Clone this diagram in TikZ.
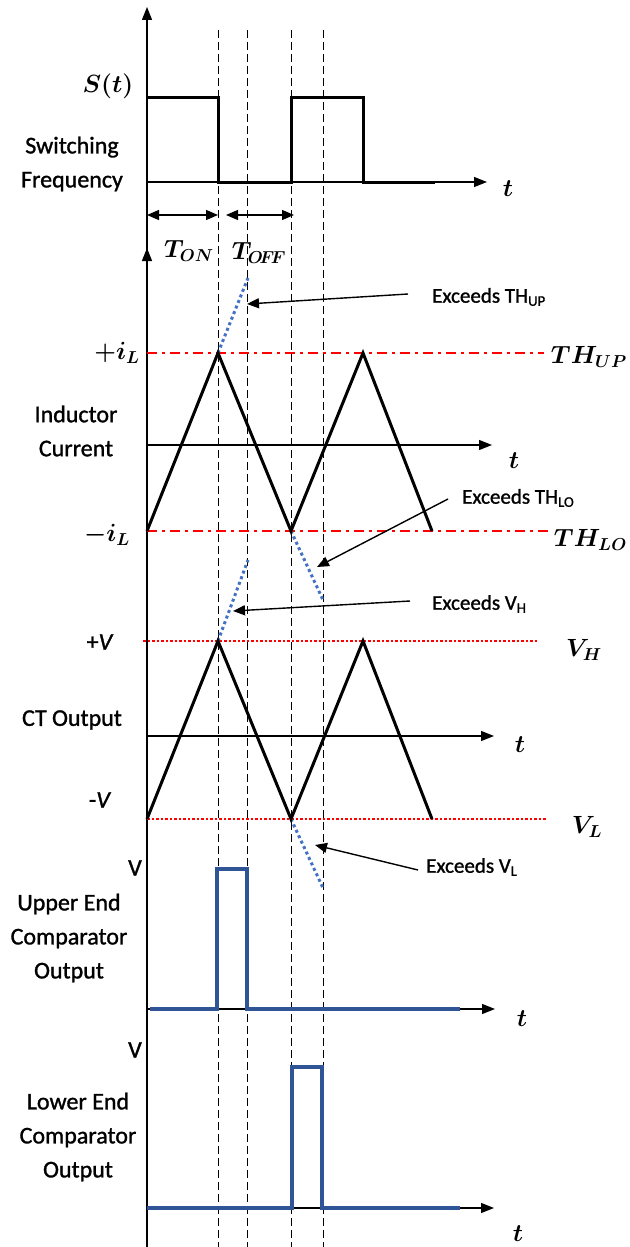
\documentclass[tikz,border=0pt]{standalone}
\usepackage{amsmath,bm}
\usepackage[no-math]{fontspec}
\setmainfont{Carlito}[FakeBold=1.2]
\usetikzlibrary{arrows.meta}
\definecolor{dotblue}{HTML}{4472C4}
\definecolor{cmpblue}{HTML}{2F5597}
\begin{document}
\begin{tikzpicture}[x=1pt,y=-1pt,
  axis/.style={line width=1.3pt,-{Triangle[length=13pt,width=10pt]}},
  dbl/.style={line width=1.3pt,{Triangle[length=12pt,width=10pt]}-{Triangle[length=12pt,width=10pt]}},
  wave/.style={line width=3pt,line join=miter},
  guide/.style={line width=0.9pt,dash pattern=on 8pt off 4pt},
  thline/.style={red,line width=2.2pt,dash pattern=on 10pt off 5pt on 3pt off 5pt},
  vlev/.style={red,line width=2.5pt,dash pattern=on 2.5pt off 2pt},
  over/.style={dotblue,line width=3pt,dash pattern=on 3pt off 3pt},
  pulse/.style={cmpblue,line width=4.5pt,line join=miter},
  note/.style={line width=1.4pt,-{Triangle[length=12pt,width=10pt]}},
  lbl/.style={font=\fontsize{24}{34}\selectfont,align=center,inner sep=0},
  mlbl/.style={font=\fontsize{25}{28}\selectfont,inner sep=0},
  ntxt/.style={font=\fontsize{21}{25}\selectfont,inner sep=0,anchor=west},
]
\useasboundingbox (0,0) rectangle (629,1247);

% guide lines
\foreach \gx/\gn in {218/a,247/b,291/c,323/d}{
  \coordinate (g\gn top) at (\gx,30);
  \coordinate (g\gn bot) at (\gx,1247);
  \draw[guide] (g\gn top) -- (g\gn bot);
}

% vertical axes
\coordinate (v1s) at (147,250); \coordinate (v1e) at (147,7);
\coordinate (v2s) at (147,1247); \coordinate (v2e) at (147,248);
\draw[axis] (v1s) -- (v1e);
\draw[axis] (v2s) -- (v2e);

% ---------- Switching ----------
\coordinate (s0) at (147,182); \coordinate (s1) at (487,182);
\draw[axis] (s0) -- (s1);
\node[mlbl] (st) at (508,189) {$\bm{t}$};
\draw[wave] (147,97) -- (218,97) -- (218,182) -- (291,182) -- (291,97) -- (363,97) -- (363,182) -- (435,182);
\node[mlbl] (sl) at (108,86) {$\bm{S(t)}$};
\node[lbl] (swf) at (72,164) {Switching\\Frequency};
\coordinate (ton1) at (147,215); \coordinate (ton2) at (218,215);
\coordinate (toff1) at (226,215); \coordinate (toff2) at (294,215);
\draw[dbl] (ton1) -- (ton2);
\draw[dbl] (toff1) -- (toff2);
\node[mlbl] (ton) at (189,251) {$\bm{T_{ON}}$};
\node[mlbl] (toff) at (259,253) {$\bm{T_{O\!F\!F}}$};

% ---------- Inductor current ----------
\coordinate (i0) at (147,445); \coordinate (i1) at (492,445);
\draw[axis] (i0) -- (i1);
\node[mlbl] (it) at (514,461) {$\bm{t}$};
\coordinate (thu0) at (147,353); \coordinate (thu1) at (544,353);
\coordinate (thl0) at (147,531); \coordinate (thl1) at (550,531);
\draw[thline] (thu0) -- (thu1);
\draw[thline] (thl0) -- (thl1);
\draw[over] (218,353) -- (248,278);
\draw[over] (291,531) -- (323,600);
\draw[wave] (147,531) -- (218,353) -- (291,531) -- (363,353) -- (432,531);
\node[mlbl] (ipl) at (117,353) {$\bm{+i_L}$};
\node[mlbl] (imi) at (107,535) {$\bm{-i_L}$};
\node[mlbl,anchor=east,font=\fontsize{24}{28}\selectfont] (thup) at (627,357) {$\bm{TH_{UP}}$};
\node[mlbl,anchor=east,font=\fontsize{24}{28}\selectfont] (thlo) at (627,540) {$\bm{TH_{LO}}$};
\node[lbl] (ic) at (76,431) {Inductor\\Current};
\node[ntxt] (n1) at (432,297) {Exceeds TH\textsubscript{UP}};
\node[ntxt] (n2) at (462,498) {Exceeds TH\textsubscript{LO}};
\coordinate (n1s) at (408,294); \coordinate (n1e) at (247,304);
\coordinate (n2s) at (448,499); \coordinate (n2e) at (317,567);
\draw[note] (n1s) -- (n1e);
\draw[note] (n2s) -- (n2e);

% ---------- CT output ----------
\coordinate (c0) at (147,736); \coordinate (c1) at (494,736);
\draw[axis] (c0) -- (c1);
\node[mlbl] (ct) at (520,745) {$\bm{t}$};
\coordinate (vh0) at (143,641); \coordinate (vh1) at (538,641);
\coordinate (vl0) at (147,819); \coordinate (vl1) at (546,819);
\draw[vlev] (vh0) -- (vh1);
\draw[vlev] (vl0) -- (vl1);
\draw[over] (218,641) -- (248,560);
\draw[over] (291,819) -- (323,888);
\draw[wave] (147,819) -- (218,641) -- (291,819) -- (363,641) -- (432,819);
\node[lbl] (pv) at (100,642) {+\textit{V}};
\node[lbl] (mv) at (100,800) {-\textit{V}};
\node[mlbl] (vhl) at (584,650) {$\bm{V_H}$};
\node[mlbl] (vll) at (587,827) {$\bm{V_L}$};
\node[lbl] (cto) at (72,720) {CT Output};
\node[ntxt] (n3) at (432,604) {Exceeds V\textsubscript{H}};
\node[ntxt] (n4) at (426,867) {Exceeds V\textsubscript{L}};
\coordinate (n3s) at (410,601); \coordinate (n3e) at (233,611);
\coordinate (n4s) at (418,870); \coordinate (n4e) at (315,845);
\draw[note] (n3s) -- (n3e);
\draw[note] (n4s) -- (n4e);

% ---------- Upper comparator ----------
\coordinate (u0) at (147,1009); \coordinate (u1) at (495,1009);
\draw[axis] (u0) -- (u1);
\draw[pulse] (150,1009) -- (217,1009) -- (217,869) -- (247,869) -- (247,1009) -- (460,1009);
\node[mlbl] (ut) at (522,1019) {$\bm{t}$};
\node[lbl] (uv) at (135,868) {V};
\node[lbl] (ul) at (69,938) {Upper End\\Comparator\\Output};

% ---------- Lower comparator ----------
\coordinate (l0) at (147,1208); \coordinate (l1) at (494,1208);
\draw[axis] (l0) -- (l1);
\draw[pulse] (147,1208) -- (292,1208) -- (292,1067) -- (322,1067) -- (322,1208) -- (460,1208);
\node[mlbl] (lt) at (518,1234) {$\bm{t}$};
\node[lbl] (lv) at (135,1050) {V};
\node[lbl] (ll) at (78,1137) {Lower End\\Comparator\\Output};
\end{tikzpicture}
\end{document}
